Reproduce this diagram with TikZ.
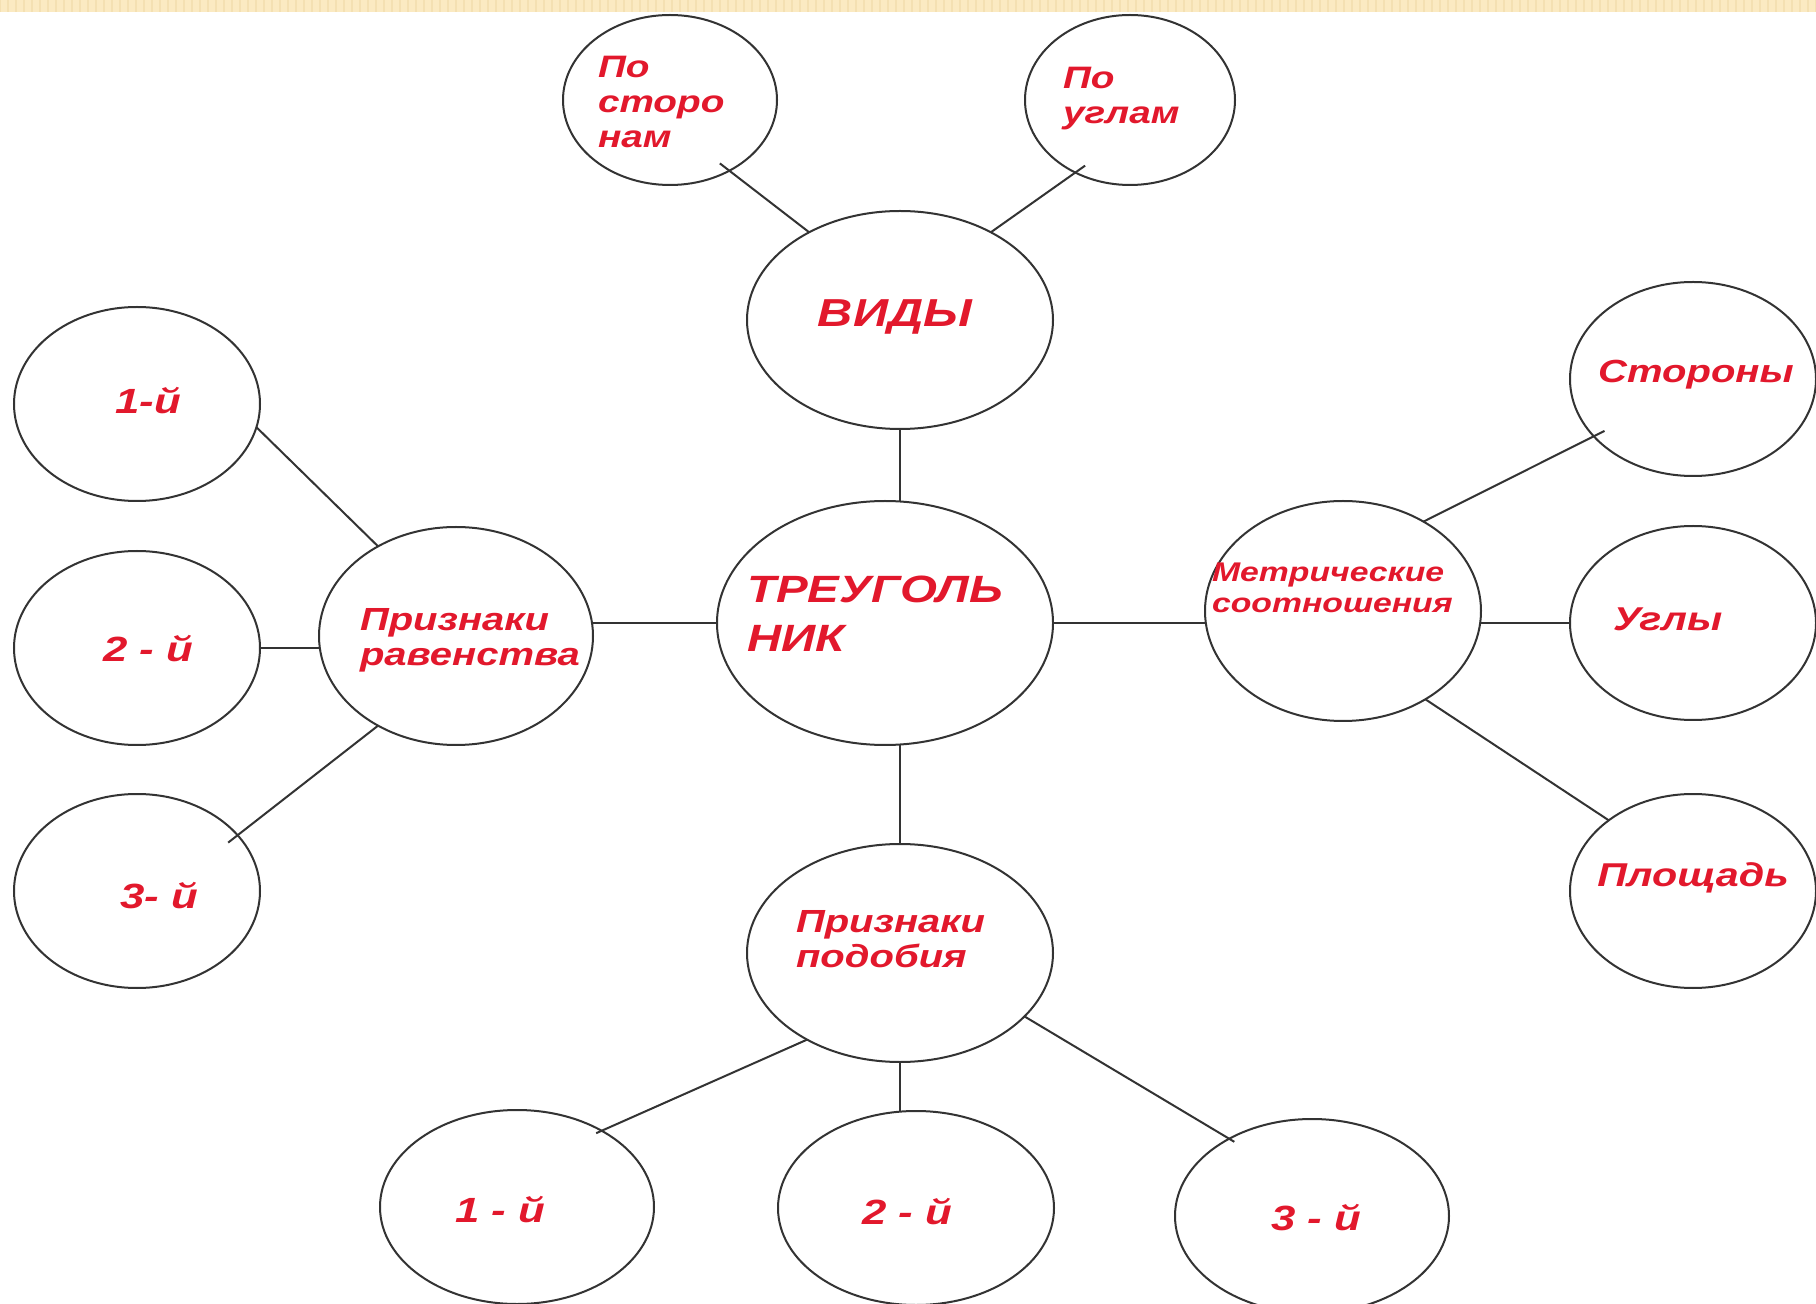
\documentclass[tikz,border=0pt]{standalone}
\usepackage{fontspec}
\newfontfamily\rf[FakeStretch=1.25]{Liberation Sans}
\usetikzlibrary{shapes.geometric}
\definecolor{txtred}{RGB}{226,24,44}
\definecolor{stripc}{RGB}{251,234,194}
\definecolor{stripd}{RGB}{244,224,178}
\begin{document}
\begin{tikzpicture}[x=0.5pt,y=-0.5pt,
  bub/.style={ellipse, draw=black!80, line width=1pt, inner sep=0pt, outer sep=0pt},
  lnk/.style={draw=black!80, line width=1pt},
  lbl/.style={text=txtred, inner sep=0pt, outer sep=0pt, align=left},
  fnt/.style 2 args={font=\rf\bfseries\itshape\fontsize{#1pt}{#2pt}\selectfont}]
\useasboundingbox (0,0) rectangle (1816,1304);
\fill[white] (0,0) rectangle (1816,1304);
\fill[stripc] (0,0) rectangle (1816,12);
\foreach \i in {0,8,...,1816} \draw[stripd, line width=1pt] (\i,0) -- (\i,12);

% ellipses
\node[bub, minimum width=107pt, minimum height=85pt] (sides) at (670,100) {};
\node[bub, minimum width=105pt, minimum height=85pt] (angles) at (1130,100) {};
\node[bub, minimum width=153pt, minimum height=109pt] (vidy) at (900,320) {};
\node[bub, minimum width=168pt, minimum height=122pt] (tri) at (885,623) {};
\node[bub, minimum width=137pt, minimum height=109pt] (eq) at (456,636) {};
\node[bub, minimum width=123pt, minimum height=97pt] (eq1) at (137,404) {};
\node[bub, minimum width=123pt, minimum height=97pt] (eq2) at (137,648) {};
\node[bub, minimum width=123pt, minimum height=97pt] (eq3) at (137,891) {};
\node[bub, minimum width=138pt, minimum height=110pt] (metr) at (1343,611) {};
\node[bub, minimum width=123pt, minimum height=97pt] (stor) at (1693,379) {};
\node[bub, minimum width=123pt, minimum height=97pt] (ugl) at (1693,623) {};
\node[bub, minimum width=123pt, minimum height=97pt] (pl) at (1693,891) {};
\node[bub, minimum width=153pt, minimum height=109pt] (sim) at (900,953) {};
\node[bub, minimum width=137pt, minimum height=97pt] (b1) at (517,1207) {};
\node[bub, minimum width=138pt, minimum height=97pt] (b2) at (916,1208) {};
\node[bub, minimum width=137pt, minimum height=97pt] (b3) at (1312,1216) {};

% connectors
\draw[lnk, shorten <=-6pt] (sides.-50) -- (vidy.136);
\draw[lnk, shorten <=-6pt] (angles.-127) -- (vidy.44);
\draw[lnk] (vidy.south) -- (vidy.south |- tri.north);
\draw[lnk] (tri.west) -- (tri.west -| eq.east);
\draw[lnk] (tri.east) -- (tri.east -| metr.west);
\draw[lnk] (tri.south -| sim.north) -- (sim.north);
\draw[lnk] (eq1.-11) -- (eq.131);
\draw[lnk] (eq2.east) -- (eq2.east -| eq.west);
\draw[lnk, shorten <=-6pt] (eq3.29) -- (eq.-131);
\draw[lnk, shorten >=-6pt] (metr.48) -- (stor.-150);
\draw[lnk] (ugl.west) -- (ugl.west -| metr.east);
\draw[lnk] (metr.-47) -- (pl.140);
\draw[lnk, shorten >=-3pt] (sim.-137) -- (b1.42);
\draw[lnk] (sim.south) -- (sim.south |- b2.north);
\draw[lnk, shorten >=-3pt] (sim.-27) -- (b3.137);

% labels
\node[lbl, fnt={15.5}{17.5}, anchor=north west] (t-sides) at (598,56) {По\\сторо\\нам};
\node[lbl, fnt={15.5}{17.5}, anchor=north west] (t-angles) at (1063,67) {По\\углам};
\node[lbl, fnt={19.5}{22}, anchor=base] (t-vidy) at (895,327) {ВИДЫ};
\node[lbl, fnt={19}{24.5}, anchor=north west] (t-tri) at (747,576) {ТРЕУГОЛЬ\\НИК};
\node[lbl, fnt={16}{17.5}, anchor=north west] (t-eq) at (360,608) {Признаки\\равенства};
\node[lbl, fnt={17.5}{20}, anchor=base] (t-eq1) at (148,414) {1-й};
\node[lbl, fnt={17.5}{20}, anchor=base] (t-eq2) at (148,662) {2 - й};
\node[lbl, fnt={17.5}{20}, anchor=base] (t-eq3) at (159,908) {3- й};
\node[lbl, fnt={13.5}{15.5}, anchor=north west] (t-metr) at (1212,563) {Метрические\\соотношения};
\node[lbl, fnt={16}{18}, anchor=base] (t-stor) at (1696,383) {Стороны};
\node[lbl, fnt={16.5}{18}, anchor=base west] (t-ugl) at (1613,631) {Углы};
\node[lbl, fnt={16.5}{18}, anchor=base] (t-pl) at (1693,886) {Площадь};
\node[lbl, fnt={16}{17.5}, anchor=north west] (t-sim) at (796,910) {Признаки\\подобия};
\node[lbl, fnt={17.5}{20}, anchor=base] (t-b1) at (500,1222) {1 - й};
\node[lbl, fnt={17.5}{20}, anchor=base] (t-b2) at (907,1224) {2 - й};
\node[lbl, fnt={17.5}{20}, anchor=base] (t-b3) at (1316,1230) {3 - й};
\end{tikzpicture}
\end{document}
